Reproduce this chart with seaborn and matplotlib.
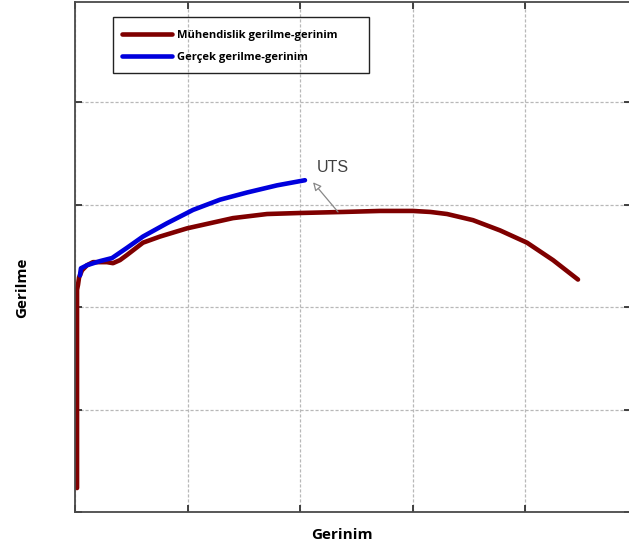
import matplotlib
matplotlib.use("Agg")
import matplotlib.pyplot as plt
import seaborn as sns
import pandas as pd
from matplotlib.patches import Rectangle
from matplotlib.lines import Line2D

# Engineering stress-strain (strain, stress) in grid units
eng_strain = [0.018, 0.018, 0.018, 0.027, 0.036, 0.062, 0.107, 0.16, 0.284, 0.338, 0.40, 0.462,
              0.604, 0.756, 0.996, 1.2, 1.404, 1.707, 2.0, 2.382, 2.711, 3.004, 3.16, 3.307, 3.538,
              3.778, 4.018, 4.249, 4.471]
eng_stress = [0.234, 1.09, 2.17, 2.22, 2.29, 2.36, 2.41, 2.44, 2.44, 2.43, 2.46, 2.51,
              2.63, 2.69, 2.77, 2.82, 2.87, 2.91, 2.92, 2.93, 2.94, 2.94, 2.93, 2.91, 2.85,
              2.75, 2.63, 2.46, 2.27]

# True stress-strain
true_strain = [0.044, 0.053, 0.107, 0.222, 0.329, 0.462, 0.604, 0.818, 1.049, 1.289, 1.529, 1.796, 2.044]
true_stress = [2.31, 2.38, 2.41, 2.45, 2.48, 2.58, 2.69, 2.82, 2.95, 3.05, 3.12, 3.19, 3.24]

series_names = ["Mühendislik gerilme-gerinim", "Gerçek gerilme-gerinim"]
series_colors = ["#7f0000", "#0000dd"]
xlabel_text = "Gerinim"
ylabel_text = "Gerilme"
uts_label = "UTS"
uts_point = (2.338, 2.93)
uts_text_pos = (2.293, 3.36)
uts_arrow_tip = (2.116, 3.22)

df = pd.concat([
    pd.DataFrame({"strain": eng_strain, "stress": eng_stress, "curve": series_names[0]}),
    pd.DataFrame({"strain": true_strain, "stress": true_stress, "curve": series_names[1]}),
])

sns.set_style("white")
plt.rcParams['font.family'] = ['Open Sans', 'DejaVu Sans']

fig = plt.figure(figsize=(6.29, 5.54), dpi=100)
ax = fig.add_axes([75/629, 42/554, 556/629, 510/554])

sns.lineplot(data=df, x="strain", y="stress", hue="curve", palette=series_colors,
             hue_order=series_names, sort=False, estimator=None, units="curve",
             linewidth=3.3, ax=ax, legend=False)

ax.set_xlim(0, 556/112.5)
ax.set_ylim(0, 510/102.4)
ax.set_xticks([0, 1, 2, 3, 4])
ax.set_yticks([0, 1, 2, 3, 4])
ax.set_xticklabels([])
ax.set_yticklabels([])
ax.grid(True, color="#b8b8b8", linestyle=(0, (2.5, 1.5)), linewidth=0.9)
ax.tick_params(direction="in", length=5, width=1.3, color="#333333",
               top=True, right=True, bottom=True, left=True)
for s in ax.spines.values():
    s.set_color("#4a4a4a")
    s.set_linewidth(1.3)

ax.set_xlabel(xlabel_text, fontsize=11, fontweight="bold", color="#000000")
ax.xaxis.set_label_coords(0.481, -0.031)
ax.set_ylabel(ylabel_text, fontsize=11, fontweight="bold", color="#000000")
ax.yaxis.set_label_coords(-0.083, 0.439)

# UTS annotation
ax.annotate("", xy=uts_arrow_tip, xytext=uts_point,
            arrowprops=dict(arrowstyle="-|>", color="#888888", lw=0.9,
                            fc="white", mutation_scale=12, shrinkA=0, shrinkB=0))
ax.text(uts_text_pos[0], uts_text_pos[1], uts_label, fontsize=11.5, color="#404040",
        ha="center", va="center", family=["Liberation Sans", "DejaVu Sans"])

# Legend
handles = [Line2D([0], [0], color=c, lw=3.3) for c in series_colors]
leg = ax.legend(handles, series_names, loc="upper left",
                bbox_to_anchor=((122-75)/556, (512-30)/510), frameon=False,
                handlelength=4.5, handletextpad=0.45, labelspacing=0.95,
                borderaxespad=0, borderpad=0, labelcolor="#000000",
                prop=dict(family="Open Sans", weight="bold", size=8))
ax.add_patch(Rectangle(((113-75)/556, (512-73)/510), 256/556, 56/510,
                       transform=ax.transAxes, fill=False, edgecolor="#222222",
                       linewidth=1.0, zorder=5))

fig.savefig("out.png", dpi=100)
